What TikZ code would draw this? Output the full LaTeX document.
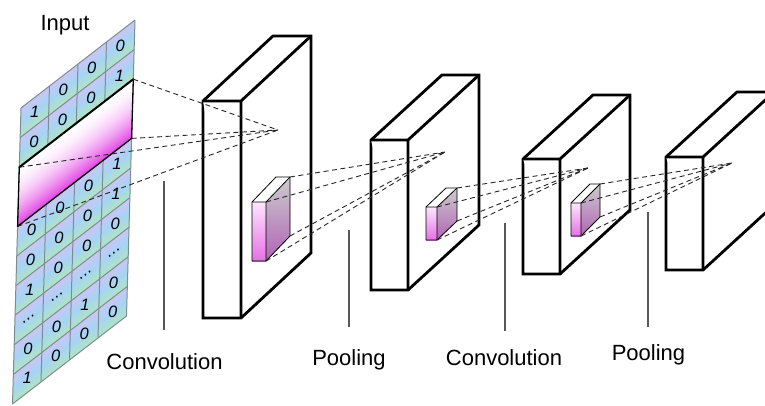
\documentclass[tikz,border=0pt]{standalone}
\usepackage{fontspec}
\setmainfont{Liberation Sans}
\usetikzlibrary{calc}

\definecolor{cellA}{RGB}{204,198,243}
\definecolor{cellB}{RGB}{166,212,245}
\definecolor{cellC}{RGB}{176,228,196}
\definecolor{cellline}{RGB}{124,142,146}
\definecolor{bandpink}{RGB}{228,70,228}
\definecolor{cubefrontA}{RGB}{253,230,253}
\definecolor{cubefrontB}{RGB}{230,112,230}
\definecolor{cubesideA}{RGB}{204,204,204}
\definecolor{cubesideB}{RGB}{176,100,180}
\definecolor{guide}{RGB}{88,88,88}

\tikzset{
  slab/.style={line width=2.8pt, line join=miter, fill=white},
  cubeedge/.style={line width=0.8pt, line join=round},
  ray/.style={dash pattern=on 5pt off 3.5pt, line width=0.9pt, draw=black!85},
  guideline/.style={draw=guide, line width=1.2pt},
  caption/.style={font=\fontsize{22}{26}\selectfont, anchor=base, inner sep=0pt},
  cellnum/.style={font=\itshape\fontsize{16.5}{19}\selectfont, inner sep=0pt},
}

% feature-map slab: name, left, top, right, bottom, depth dx, depth dy
\newcommand{\slabbox}[7]{%
  \coordinate (#1-ftl) at (#2,#3);
  \coordinate (#1-ftr) at (#4,#3);
  \coordinate (#1-fbr) at (#4,#5);
  \coordinate (#1-fbl) at (#2,#5);
  \coordinate (#1-btl) at ($(#1-ftl)+(#6,#7)$);
  \coordinate (#1-btr) at ($(#1-ftr)+(#6,#7)$);
  \coordinate (#1-bbr) at ($(#1-fbr)+(#6,#7)$);
  \filldraw[slab] (#1-ftl) -- (#1-btl) -- (#1-btr) -- (#1-bbr) -- (#1-fbr) -- (#1-fbl) -- cycle;
  \draw[slab] (#1-ftl) -- (#1-ftr) -- (#1-fbr) (#1-ftr) -- (#1-btr);
}

% small kernel block drawn inside a slab
\newcommand{\kernelblock}[7]{%
  \coordinate (#1-ftl) at (#2,#3);
  \coordinate (#1-ftr) at (#4,#3);
  \coordinate (#1-fbr) at (#4,#5);
  \coordinate (#1-fbl) at (#2,#5);
  \coordinate (#1-btl) at ($(#1-ftl)+(#6,#7)$);
  \coordinate (#1-btr) at ($(#1-ftr)+(#6,#7)$);
  \coordinate (#1-bbr) at ($(#1-fbr)+(#6,#7)$);
  \shade[top color=cubefrontA, bottom color=cubefrontB]
    (#1-ftl) -- (#1-ftr) -- (#1-fbr) -- (#1-fbl) -- cycle;
  \shade[top color=cubesideA, bottom color=cubesideB]
    (#1-ftr) -- (#1-btr) -- (#1-bbr) -- (#1-fbr) -- cycle;
  \fill[white] (#1-ftl) -- (#1-btl) -- (#1-btr) -- (#1-ftr) -- cycle;
  \draw[cubeedge] (#1-ftl) -- (#1-btl) -- (#1-btr) -- (#1-bbr) -- (#1-fbr) -- (#1-fbl) -- cycle;
  \draw[cubeedge] (#1-ftl) -- (#1-ftr) -- (#1-fbr) (#1-ftr) -- (#1-btr);
}

\begin{document}
\begin{tikzpicture}[x=1pt,y=-1pt]
\useasboundingbox (0,0) rectangle (765,405);
\clip (0,0) rectangle (765,405);

% ---------------- input grid (4 columns x 10 rows, sheared) ----------------
\begin{scope}[shift={(21,108)}, x={(28.5pt,22pt)}, y={(-0.85pt,-29.6pt)}]
  % cell colour gradient, row by row
  \foreach \j in {0,...,9} {
    \foreach \k in {0,...,11} {
      \pgfmathsetmacro\stripa{\j+\k/12}
      \pgfmathsetmacro\stripb{min(\j+(\k+1.4)/12,10)}
      \pgfmathsetmacro\cellt{(\k+0.5)/12}
      \ifdim\cellt pt<0.5pt
        \pgfmathsetmacro\cellp{200*\cellt}
        \colorlet{stripcol}{cellB!\cellp!cellA}
      \else
        \pgfmathsetmacro\cellp{200*(\cellt-0.5)}
        \colorlet{stripcol}{cellC!\cellp!cellB}
      \fi
      \fill[stripcol] (0,\stripa) -- (4,\stripa) -- (4,\stripb) -- (0,\stripb) -- cycle;
    }
  }
  % cell borders
  \foreach \i in {0,...,4} \draw[cellline, line width=1pt] (\i,0) -- (\i,10);
  \foreach \j in {0,...,10} \draw[cellline, line width=1pt] (0,\j) -- (4,\j);
  % cell values
  \foreach \r/\va/\vb/\vc/\vd in {0/1/0/0/0, 1/0/0/0/1, 4/0/0/0/1, 5/0/0/0/1,
                                  6/1/0/0/0, 8/0/0/1/0, 9/1/0/0/0} {
    \node[cellnum] (c-0-\r) at (0.5,\r+0.5) {\va};
    \node[cellnum] (c-1-\r) at (1.5,\r+0.5) {\vb};
    \node[cellnum] (c-2-\r) at (2.5,\r+0.5) {\vc};
    \node[cellnum] (c-3-\r) at (3.5,\r+0.5) {\vd};
  }
  \foreach \i in {0,...,3}
    \node[cellnum, rotate=37] (c-\i-7) at (\i+0.5,7.5) {…};

  % receptive-field band over rows 3-4
  \coordinate (bandTL) at (0,2);
  \coordinate (bandTR) at (4,2);
  \coordinate (bandBR) at (4,4);
  \coordinate (bandBL) at (0,4);
  \foreach \k in {0,...,29} {
    \pgfmathsetmacro\stripa{2+2*\k/30}
    \pgfmathsetmacro\stripb{min(2+2*(\k+1.4)/30,4)}
    \pgfmathsetmacro\bandp{100*((\k+0.5)/30)^1.8}
    \fill[bandpink!\bandp!white] (0,\stripa) -- (4,\stripa) -- (4,\stripb) -- (0,\stripb) -- cycle;
  }
  \draw[line width=1.3pt, line join=round] (bandTR) -- (bandBR) -- (bandBL) -- (bandTL);
  \draw[line width=2pt, line cap=round] (bandTL) -- (bandTR);
\end{scope}

\node[caption] (input) at (65,30) {Input};

% ---------------- guide lines and captions ----------------
\coordinate (gA1) at (164,181);  \coordinate (gA2) at (164,330);
\coordinate (gB1) at (349,230);  \coordinate (gB2) at (349,327);
\coordinate (gC1) at (505,223);  \coordinate (gC2) at (505,331);
\coordinate (gD1) at (648,212);  \coordinate (gD2) at (648,327);
\draw[guideline] (gA1) -- (gA2);
\draw[guideline] (gB1) -- (gB2);
\draw[guideline] (gC1) -- (gC2);
\draw[guideline] (gD1) -- (gD2);

\node[caption] (convA) at (164.5,369) {Convolution};
\node[caption] (poolA) at (349,365) {Pooling};
\node[caption] (convB) at (504,365) {Convolution};
\node[caption] (poolB) at (648.5,360) {Pooling};

% ---------------- feature maps ----------------
\slabbox{mapA}{203}{101}{241}{318}{70}{-65}
\slabbox{mapB}{371}{140}{408}{290}{71}{-65}
\slabbox{mapC}{523}{159}{560}{274}{70}{-64}
\slabbox{mapD}{666}{157}{703}{270}{71}{-65}

\kernelblock{kerA}{252}{202}{266}{261}{24}{-25}
\kernelblock{kerB}{426}{207}{437}{240}{20}{-19}
\kernelblock{kerC}{571}{203}{581}{236}{19}{-19}

% points where the projections meet
\coordinate (focusA) at (278,130);
\coordinate (focusB) at (445,152);
\coordinate (focusC) at (588,168);
\coordinate (focusD) at (732,163);

% ---------------- projection rays ----------------
\foreach \c in {bandTL,bandTR,bandBR,bandBL}
  \draw[ray] (\c) -- (focusA);
\foreach \c in {ftr,btr,bbr,fbr} {
  \draw[ray] (kerA-\c) -- (focusB);
  \draw[ray] (kerB-\c) -- (focusC);
  \draw[ray] (kerC-\c) -- (focusD);
}
\end{tikzpicture}
\end{document}
